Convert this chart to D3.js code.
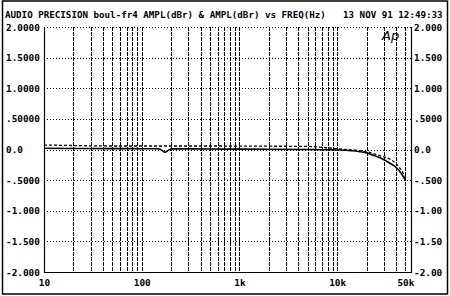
<!DOCTYPE html>
<html>
<head>
<meta charset="utf-8">
<script src="https://cdn.jsdelivr.net/npm/d3@7"></script>
<style>
    body { margin: 0; background: #fff; }
    text { font-family: "DejaVu Sans Mono", "Liberation Mono", monospace; font-weight: bold; fill: #000; }
</style>
</head>
<body>
<div id="chart"></div>
<script>
// frequency points (Hz) and the two traces (dBr)
var freqs = [10, 20, 50, 100, 147, 160, 173, 188, 204, 300, 500, 1000, 2000, 5000, 7000, 10700, 17100, 21700, 24000, 27500, 34800, 40000, 44000, 50000];
var solidDb = [0.02, 0.017, 0.015, 0.013, 0.012, -0.01, -0.045, -0.01, 0.01, 0.01, 0.008, 0.006, 0.004, 0.0, -0.003, -0.008, -0.036, -0.073, -0.1, -0.134, -0.225, -0.29, -0.362, -0.498];
var dashedDb = [0.073, 0.065, 0.057, 0.057, 0.057, 0.057, 0.057, 0.057, 0.057, 0.057, 0.057, 0.056, 0.054, 0.05, 0.035, 0.008, -0.02, -0.05, -0.073, -0.1, -0.16, -0.23, -0.307, -0.45];

var yTicks = [2, 1.5, 1, 0.5, 0, -0.5, -1, -1.5, -2];
var leftLabels = ["2.0000", "1.5000", "1.0000", ".50000", "0.0", "-.5000", "-1.000", "-1.500", "-2.000"];
var rightLabels = ["2.000", "1.500", "1.000", ".5000", "0.0", "-.500", "-1.00", "-1.50", "-2.00"];
var xTicks = [10, 100, 1000, 10000, 50000];
var xLabels = ["10", "100", "1k", "10k", "50k"];

var w = 450;
var h = 296;
var plotLeft = 44, plotRight = 411, plotTop = 27, plotBottom = 272;

var svg = d3.select("#chart")
    .append("svg")
    .attr("width", w)
    .attr("height", h);

// outer frame
svg.append("rect")
    .attr("x", 2.5)
    .attr("y", 1)
    .attr("width", 445)
    .attr("height", 293)
    .attr("fill", "none")
    .attr("stroke", "#000")
    .attr("stroke-width", 1.5);

// scales
var xScale = d3.scaleLog().domain([10, 57000]).range([plotLeft, plotRight]);
var yScale = d3.scaleLinear().domain([-2, 2]).range([plotBottom, plotTop]);

// vertical grid (2..9 in each decade)
var vGrid = [];
for (var dec = 10; dec <= 10000; dec *= 10) {
    for (var m = 1; m <= 9; m++) {
        if (dec * m > 10 && dec * m <= 50000) vGrid.push(dec * m);
    }
}
svg.selectAll(".vgrid")
    .data(vGrid)
    .enter()
    .append("line")
    .attr("class", "vgrid")
    .attr("x1", function (d) { return Math.round(xScale(d)) + 0.5; })
    .attr("x2", function (d) { return Math.round(xScale(d)) + 0.5; })
    .attr("y1", plotTop)
    .attr("y2", plotBottom)
    .attr("stroke", "#000")
    .attr("stroke-width", 1)
    .attr("stroke-dasharray", "4,1");

// horizontal grid
svg.selectAll(".hgrid")
    .data(yTicks)
    .enter()
    .append("line")
    .attr("class", "hgrid")
    .attr("x1", plotLeft)
    .attr("x2", plotRight)
    .attr("y1", function (d) { return Math.round(yScale(d)) + 0.5; })
    .attr("y2", function (d) { return Math.round(yScale(d)) + 0.5; })
    .attr("stroke", "#000")
    .attr("stroke-width", 1)
    .attr("stroke-dasharray", "1,2");

// plot frame (left, bottom, right solid)
svg.append("path")
    .attr("d", "M" + (plotLeft + 0.5) + "," + plotTop + "V" + (plotBottom + 0.5) + "H" + (plotRight + 0.5) + "V" + plotTop)
    .attr("fill", "none")
    .attr("stroke", "#000")
    .attr("stroke-width", 1.2);

// axes (labels only)
var yLeft = d3.axisLeft(yScale)
    .tickValues(yTicks)
    .tickSize(0)
    .tickPadding(4)
    .tickFormat(function (d, i) { return leftLabels[i]; });
var yRight = d3.axisRight(yScale)
    .tickValues(yTicks)
    .tickSize(0)
    .tickPadding(3)
    .tickFormat(function (d, i) { return rightLabels[i]; });
var xAxis = d3.axisBottom(xScale)
    .tickValues(xTicks)
    .tickSize(0)
    .tickPadding(7)
    .tickFormat(function (d, i) { return xLabels[i]; });

var gLeft = svg.append("g").attr("transform", "translate(" + plotLeft + ",0)").call(yLeft);
var gRight = svg.append("g").attr("transform", "translate(" + plotRight + ",0)").call(yRight);
var gBottom = svg.append("g").attr("transform", "translate(0," + plotBottom + ")").call(xAxis);

[gLeft, gRight, gBottom].forEach(function (g) {
    g.select(".domain").remove();
    g.selectAll("text")
        .style("font-family", "DejaVu Sans Mono")
        .style("font-weight", "bold")
        .style("font-size", "9.4px")
        .attr("fill", "#000");
});

// left labels all start at the same column
gLeft.selectAll("text")
    .attr("text-anchor", "start")
    .attr("x", 6 - plotLeft);

// traces
var line = function (vals) {
    return d3.line()
        .x(function (d, i) { return xScale(freqs[i]); })
        .y(function (d) { return yScale(d); })
        .curve(d3.curveMonotoneX)(vals);
};

svg.append("path")
    .attr("d", line(dashedDb))
    .attr("fill", "none")
    .attr("stroke", "#000")
    .attr("stroke-width", 1.3)
    .attr("stroke-dasharray", "3,2");

svg.append("path")
    .attr("d", line(solidDb))
    .attr("fill", "none")
    .attr("stroke", "#000")
    .attr("stroke-width", 1.6);

// title
svg.append("text")
    .attr("x", 5)
    .attr("y", 18)
    .style("font-size", "9.2px")
    .text("AUDIO PRECISION boul-fr4 AMPL(dBr) & AMPL(dBr) vs FREQ(Hz)");

svg.append("text")
    .attr("x", 343)
    .attr("y", 18)
    .style("font-size", "9.2px")
    .text("13 NOV 91 12:49:33");

// Ap logo
svg.append("text")
    .attr("x", 382)
    .attr("y", 40)
    .style("font-family", "DejaVu Sans")
    .style("font-weight", "normal")
    .style("font-style", "italic")
    .style("font-size", "13px")
    .text("Ap");
</script>
</body>
</html>
